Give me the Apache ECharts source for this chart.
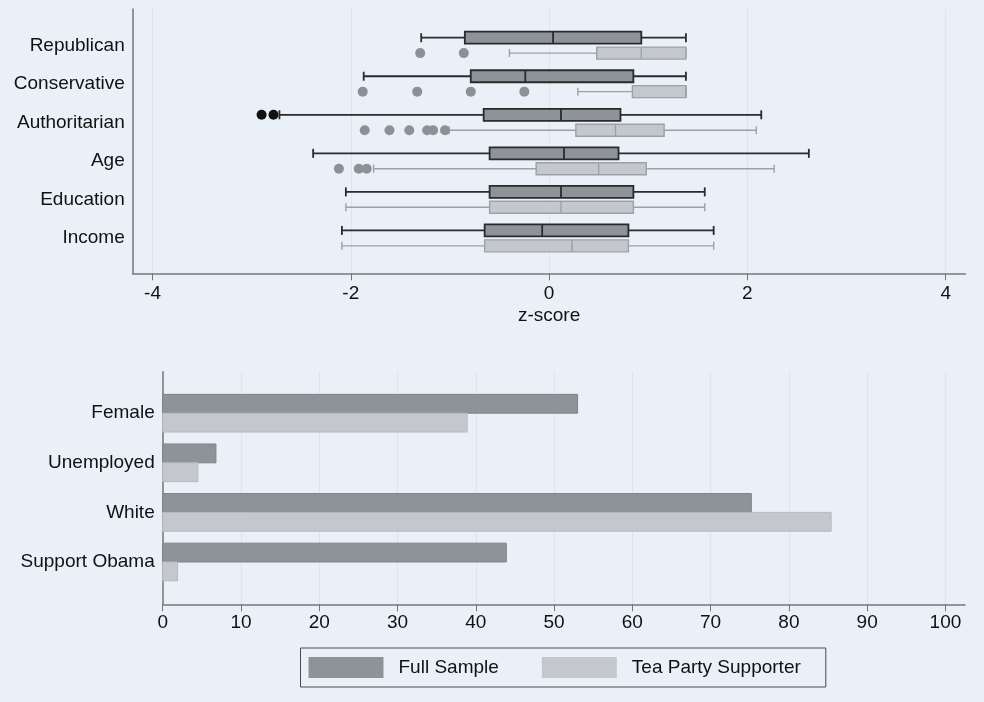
<!DOCTYPE html>
<html>
<head>
<meta charset="utf-8">
<title>Full sample vs Tea Party supporters</title>
<script src="https://cdn.jsdelivr.net/npm/echarts@6/dist/echarts.min.js"></script>
<style>
  html, body { margin: 0; padding: 0; background: #eaf0f8; }
  #chart { width: 984px; height: 702px; }
</style>
</head>
<body>
<div id="chart"></div>
<script>
// top panel: z-score box plots
var rowNames = ['Republican', 'Conservative', 'Authoritarian', 'Age', 'Education', 'Income']
// [row, lower whisker, q1, median, q3, upper whisker]
var fullBoxes = [
  [0, -1.29, -0.85, 0.04, 0.93, 1.38],
  [1, -1.87, -0.79, -0.24, 0.85, 1.38],
  [2, -2.72, -0.66, 0.12, 0.72, 2.14],
  [3, -2.38, -0.60, 0.15, 0.70, 2.62],
  [4, -2.05, -0.60, 0.12, 0.85, 1.57],
  [5, -2.09, -0.65, -0.07, 0.80, 1.66]
]
var teaBoxes = [
  [0, -0.40, 0.48, 0.93, 1.38, 1.38],
  [1, 0.29, 0.84, 1.38, 1.38, 1.38],
  [2, -1.01, 0.27, 0.67, 1.16, 2.09],
  [3, -1.77, -0.13, 0.50, 0.98, 2.27],
  [4, -2.05, -0.60, 0.12, 0.85, 1.57],
  [5, -2.09, -0.65, 0.23, 0.80, 1.66]
]
// [z, row]
var fullOutliers = [[-2.90, 2], [-2.78, 2]]
var teaOutliers = [
  [-1.30, 0], [-0.86, 0],
  [-1.88, 1], [-1.33, 1], [-0.79, 1], [-0.25, 1],
  [-1.86, 2], [-1.61, 2], [-1.41, 2], [-1.23, 2], [-1.17, 2], [-1.05, 2],
  [-2.12, 3], [-1.92, 3], [-1.84, 3]
]
var zTicks = [-4, -2, 0, 2, 4]

// bottom panel: percentages
var barCategories = ['Female', 'Unemployed', 'White', 'Support Obama']
var fullSample = [53.0, 6.8, 75.2, 43.9]
var teaParty = [38.9, 4.5, 85.4, 1.9]
var pctTicks = [0, 10, 20, 30, 40, 50, 60, 70, 80, 90, 100]

var FONT = 'Liberation Sans, Arial, Helvetica, sans-serif'
var TEXT = '#111'
var AXIS = '#777'
var GRID = '#dde4ee'
var FULL_FILL = '#8e9398'
var TEA_FILL = '#c4c8cd'

var fullStyle = { fill: FULL_FILL, line: '#2a2a2a', width: 1.8, boxHalf: 6, capHalf: 4.5 }
var teaStyle = { fill: TEA_FILL, line: '#9da1a6', width: 1.4, boxHalf: 6, capHalf: 4 }

function boxItem (offset, s) {
  return function (params, api) {
    var row = api.value(0) + offset
    var p = [1, 2, 3, 4, 5].map(function (k) { return api.coord([api.value(k), row]) })
    var y = p[0][1]
    var seg = function (x1, y1, x2, y2) {
      return { type: 'line', shape: { x1: x1, y1: y1, x2: x2, y2: y2 }, style: { stroke: s.line, lineWidth: s.width } }
    }
    return {
      type: 'group',
      children: [
        seg(p[0][0], y, p[1][0], y),
        seg(p[3][0], y, p[4][0], y),
        seg(p[0][0], y - s.capHalf, p[0][0], y + s.capHalf),
        seg(p[4][0], y - s.capHalf, p[4][0], y + s.capHalf),
        {
          type: 'rect',
          shape: { x: p[1][0], y: y - s.boxHalf, width: p[3][0] - p[1][0], height: 2 * s.boxHalf },
          style: { fill: s.fill, stroke: s.line, lineWidth: s.width }
        },
        seg(p[2][0], y - s.boxHalf, p[2][0], y + s.boxHalf)
      ]
    }
  }
}

function barItem (from, to, fill, stroke) {
  return function (params, api) {
    var i = api.value(0)
    var a = api.coord([0, i + from])
    var b = api.coord([api.value(1), i + to])
    return {
      type: 'rect',
      shape: { x: a[0], y: a[1], width: b[0] - a[0], height: b[1] - a[1] },
      style: { fill: fill, stroke: stroke, lineWidth: 1 }
    }
  }
}

var BOX_OFF = 0.2
var BAR_SPAN = 0.38

var option = {
  backgroundColor: '#eaf0f8',
  textStyle: { fontFamily: FONT },
  animation: false,
  grid: [
    { left: 132.7, top: 9, width: 832.8, height: 264.3 },
    { left: 162.7, top: 371.7, width: 802.3, height: 232.6 }
  ],
  xAxis: [
    {
      gridIndex: 0,
      type: 'value',
      min: -4.2,
      max: 4.2,
      name: 'z-score',
      nameLocation: 'middle',
      nameGap: 33,
      nameTextStyle: { fontSize: 19, color: TEXT, fontFamily: FONT },
      axisLine: { show: true, onZero: false, lineStyle: { color: AXIS, width: 1.5 } },
      axisTick: { show: true, length: 7, customValues: zTicks, lineStyle: { color: AXIS } },
      axisLabel: { customValues: zTicks, fontSize: 19, color: TEXT, margin: 11, fontFamily: FONT },
      splitLine: { show: true, lineStyle: { color: GRID, width: 1 } }
    },
    {
      gridIndex: 1,
      type: 'value',
      min: 0,
      max: 102.5,
      axisLine: { show: true, onZero: false, lineStyle: { color: AXIS, width: 1.5 } },
      axisTick: { show: true, length: 7, customValues: pctTicks, lineStyle: { color: AXIS } },
      axisLabel: { customValues: pctTicks, fontSize: 19, color: TEXT, margin: 9, fontFamily: FONT },
      splitLine: { show: true, lineStyle: { color: GRID, width: 1 } }
    }
  ],
  yAxis: [
    {
      gridIndex: 0,
      type: 'value',
      inverse: true,
      min: -0.944,
      max: 5.912,
      axisLine: { show: true, onZero: false, lineStyle: { color: AXIS, width: 1.5 } },
      axisTick: { show: false },
      splitLine: { show: false },
      axisLabel: {
        customValues: [0, 1, 2, 3, 4, 5],
        formatter: function (v) { return rowNames[Math.round(v)] },
        fontSize: 19,
        color: TEXT,
        margin: 8,
        padding: [3, 0, 0, 0],
        fontFamily: FONT
      }
    },
    {
      gridIndex: 1,
      type: 'value',
      inverse: true,
      min: -0.837,
      max: 3.853,
      axisLine: { show: true, onZero: false, lineStyle: { color: AXIS, width: 1.5 } },
      axisTick: { show: false },
      splitLine: { show: false },
      axisLabel: {
        customValues: [0, 1, 2, 3],
        formatter: function (v) { return barCategories[Math.round(v)] },
        fontSize: 19,
        color: TEXT,
        margin: 8,
        fontFamily: FONT
      }
    }
  ],
  legend: {
    left: 300.5,
    top: 648,
    orient: 'horizontal',
    data: [
      { name: 'Full Sample', icon: 'rect' },
      { name: 'Tea Party Supporter', icon: 'rect' }
    ],
    itemWidth: 75,
    itemHeight: 21,
    itemGap: 43,
    padding: [9, 25, 9, 8],
    borderColor: '#4a4a4a',
    borderWidth: 1,
    selectedMode: false,
    textStyle: { fontSize: 19, color: TEXT, fontFamily: FONT, padding: [0, 0, 0, 10] }
  },
  series: [
    {
      name: 'Full (z)',
      type: 'custom',
      xAxisIndex: 0,
      yAxisIndex: 0,
      renderItem: boxItem(-BOX_OFF, fullStyle),
      encode: { x: [1, 2, 3, 4, 5], y: 0 },
      data: fullBoxes
    },
    {
      name: 'Tea (z)',
      type: 'custom',
      xAxisIndex: 0,
      yAxisIndex: 0,
      renderItem: boxItem(BOX_OFF, teaStyle),
      encode: { x: [1, 2, 3, 4, 5], y: 0 },
      data: teaBoxes
    },
    {
      name: 'Full outliers',
      type: 'scatter',
      xAxisIndex: 0,
      yAxisIndex: 0,
      symbolSize: 10,
      itemStyle: { color: '#111', opacity: 1 },
      data: fullOutliers.map(function (d) { return [d[0], d[1] - BOX_OFF] })
    },
    {
      name: 'Tea outliers',
      type: 'scatter',
      xAxisIndex: 0,
      yAxisIndex: 0,
      symbolSize: 10,
      itemStyle: { color: '#8d9196', opacity: 1 },
      data: teaOutliers.map(function (d) { return [d[0], d[1] + BOX_OFF] })
    },
    {
      name: 'Full Sample',
      type: 'custom',
      xAxisIndex: 1,
      yAxisIndex: 1,
      itemStyle: { color: FULL_FILL },
      renderItem: barItem(-BAR_SPAN, 0, FULL_FILL, '#7f8489'),
      encode: { x: 1, y: 0 },
      data: fullSample.map(function (v, i) { return [i, v] })
    },
    {
      name: 'Tea Party Supporter',
      type: 'custom',
      xAxisIndex: 1,
      yAxisIndex: 1,
      itemStyle: { color: TEA_FILL },
      renderItem: barItem(0, BAR_SPAN, TEA_FILL, '#b7bbc0'),
      encode: { x: 1, y: 0 },
      data: teaParty.map(function (v, i) { return [i, v] })
    }
  ]
}

var myChart = echarts.init(document.getElementById('chart'))
myChart.setOption(option)
</script>
</body>
</html>
